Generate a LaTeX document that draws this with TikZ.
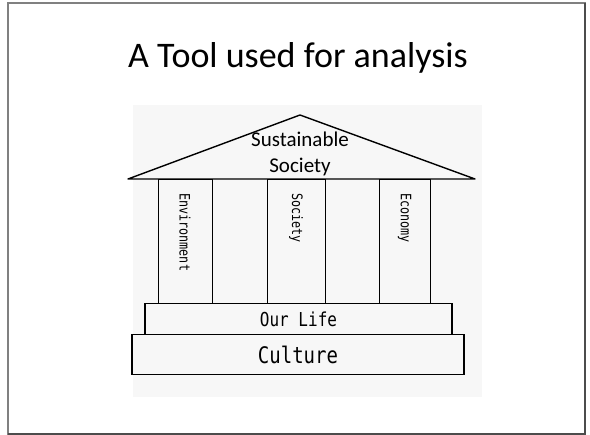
\documentclass[tikz,border=0pt]{standalone}
\usepackage{fontspec}
\usepackage{graphicx}
\setmainfont{Carlito}
\newfontfamily\gothicfont{DejaVu Sans Mono}
\newcommand{\tallgothic}[1]{\scalebox{1}[1.2]{#1}}
\usetikzlibrary{positioning}

\begin{document}
\begin{tikzpicture}[x=1pt,y=-1pt,thick,
  pillar/.style={draw,rectangle,inner sep=0pt,minimum height=124pt,anchor=north,line width=0.9pt},
  pillar label/.style={rotate=-90,anchor=west,inner sep=0pt,font=\gothicfont\fontsize{11.5}{12}\selectfont},
  base box/.style={draw,rectangle,inner sep=0pt,anchor=north,line width=1.3pt,font=\gothicfont}]

  \useasboundingbox (0,0) rectangle (590,435);
  % slide frame
  \draw[gray,line width=1.5pt] (8,3) rectangle (585,434);
  \draw[black!70,line width=1.5pt] (585,3) -- (585,434) -- (8,434);
  \fill[black!3] (133,105) rectangle (482,397);

  \node[anchor=base,font=\fontsize{36}{40}\selectfont] (title) at (298,68) {A Tool used for analysis};

  % roof
  \coordinate (apex) at (300,115);
  \coordinate (eaveL) at (128,179);
  \coordinate (eaveR) at (475,179);
  \draw[line width=1.4pt,line join=round] (eaveL) -- (apex) -- (eaveR) -- cycle;
  \node[align=center,font=\fontsize{21}{26}\selectfont,inner sep=0pt,anchor=base] (goal) at (300,173) {Sustainable\\Society};

  % pillars
  \node[pillar,minimum width=54pt] (env) at (185,179) {};
  \node[pillar,minimum width=58pt] (soc) at (296,179) {};
  \node[pillar,minimum width=51pt] (eco) at (404.5,179) {};
  \node[pillar label] (envtxt) at ([yshift=-14pt]env.north) {\scalebox{1.02}[1.25]{Environment}};
  \node[pillar label] (soctxt) at ([yshift=-14pt]soc.north) {\scalebox{1.02}[1.25]{Society}};
  \node[pillar label] (ecotxt) at ([yshift=-14pt]eco.north) {\scalebox{1.02}[1.25]{Economy}};

  % foundation
  \node[base box,minimum width=307pt,minimum height=31pt,font=\gothicfont\fontsize{16}{18}\selectfont] (life) at (298.5,303) {\tallgothic{Our Life}};
  \node[base box,minimum width=332pt,minimum height=40pt,font=\gothicfont\fontsize{19}{22}\selectfont] (culture) at (298,334) {\tallgothic{Culture}};

\end{tikzpicture}
\end{document}
